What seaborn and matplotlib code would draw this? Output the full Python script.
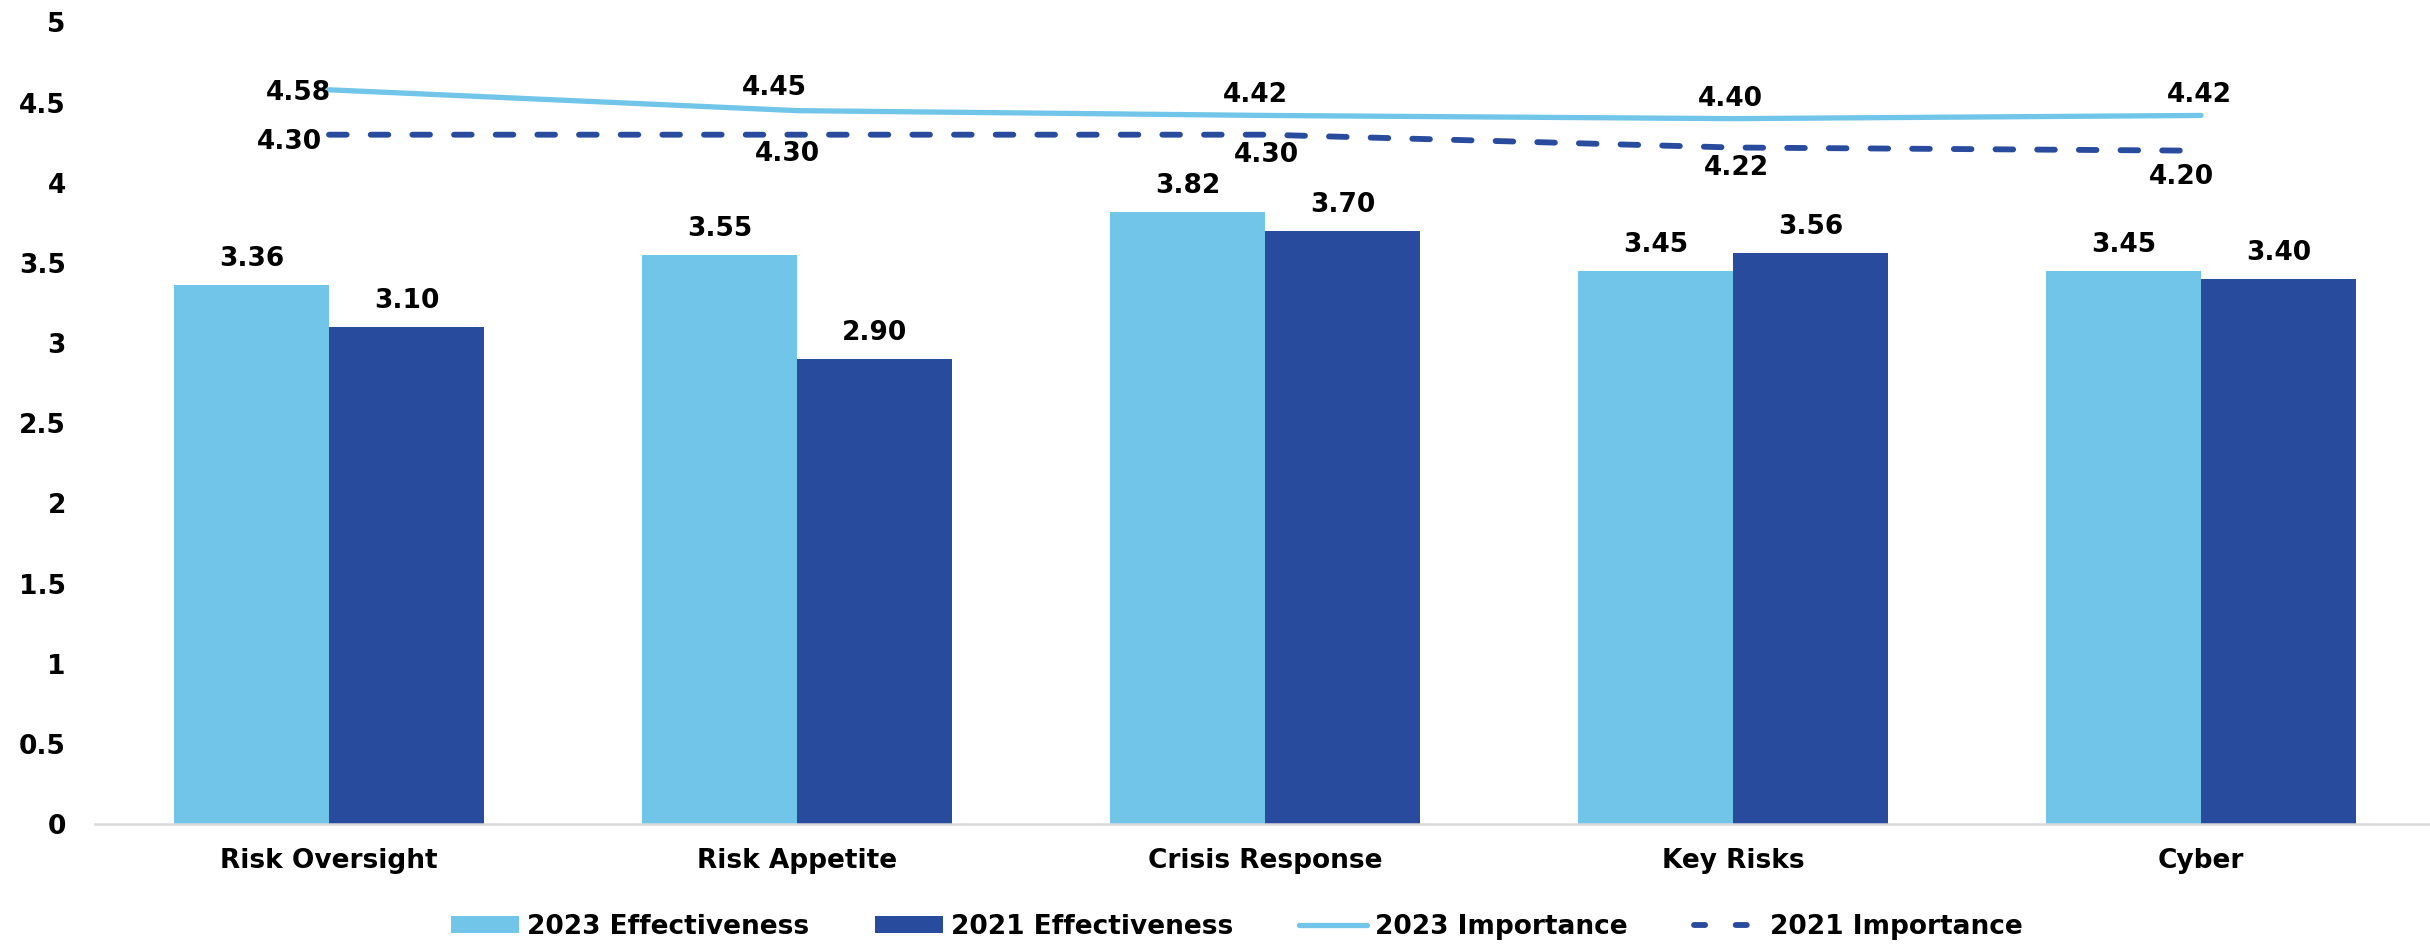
import matplotlib
matplotlib.use("Agg")
import matplotlib.pyplot as plt
from matplotlib.patches import Patch
from matplotlib.lines import Line2D
import numpy as np
import pandas as pd
import seaborn as sns

# ---- data ----
categories = ["Risk Oversight", "Risk Appetite", "Crisis Response", "Key Risks", "Cyber"]
effectiveness_2023 = [3.36, 3.55, 3.82, 3.45, 3.45]
effectiveness_2021 = [3.10, 2.90, 3.70, 3.56, 3.40]
importance_2023 = [4.58, 4.45, 4.42, 4.40, 4.42]
importance_2021 = [4.30, 4.30, 4.30, 4.22, 4.20]
bar_series = ["2023 Effectiveness", "2021 Effectiveness"]
line_series = ["2023 Importance", "2021 Importance"]
y_ticks = [0, 0.5, 1, 1.5, 2, 2.5, 3, 3.5, 4, 4.5, 5]
y_tick_labels = ["0", "0.5", "1", "1.5", "2", "2.5", "3", "3.5", "4", "4.5", "5"]

# label placement for the line values (pixel offsets from each point)
offsets_2023 = [(2, -3), (-23, 23), (-10, 20), (-3, 20), (-2, 20)]
offsets_2021 = [(-7, -7), (-10, -19), (1, -20), (3, -20), (-20, -26)]

LIGHT = "#71C5E8"
DARK = "#284B9E"
FS = 19

sns.set_theme(style="white")
plt.rcParams["font.family"] = ["DejaVu Sans"]
plt.rcParams["font.weight"] = "bold"
plt.rcParams["lines.scale_dashes"] = False
for key in ["text.color", "axes.labelcolor", "xtick.color", "ytick.color"]:
    plt.rcParams[key] = "black"

bars_df = pd.DataFrame({
    "category": categories * 2,
    "value": effectiveness_2023 + effectiveness_2021,
    "series": [bar_series[0]] * len(categories) + [bar_series[1]] * len(categories),
})
lines_df = pd.DataFrame({
    "category": categories * 2,
    "value": importance_2023 + importance_2021,
    "series": [line_series[0]] * len(categories) + [line_series[1]] * len(categories),
})

fig = plt.figure(figsize=(24.3, 9.44), dpi=100)
ax = fig.add_axes([0.0391, 0.1271, 0.963, 0.8491])

sns.barplot(
    data=bars_df, x="category", y="value", hue="series",
    order=categories, hue_order=bar_series,
    palette=[LIGHT, DARK], saturation=1, width=0.662, gap=0,
    linewidth=0, errorbar=None, legend=False, ax=ax,
)

LW = 3.8
DASH = (12.7, 17.3)  # on/off lengths in points
sns.lineplot(
    data=lines_df, x="category", y="value", hue="series", style="series",
    hue_order=line_series, style_order=line_series,
    palette=[LIGHT, DARK], dashes={line_series[0]: "", line_series[1]: DASH},
    linewidth=LW, sort=False, legend=False, ax=ax,
)
for ln in ax.lines:
    ln.set_linewidth(LW)
    ln.set_solid_capstyle("round")
    ln.set_dash_capstyle("round")
    if matplotlib.colors.to_hex(ln.get_color()).lower() == DARK.lower():
        ln.set_linewidth(4.2)
        ln.set_linestyle((0, DASH))

# value labels on bars
for cont in ax.containers:
    ax.bar_label(cont, fmt="%.2f", padding=9.4, fontsize=FS, fontweight="bold",
                 color="black")

# value labels on lines
for i, v in enumerate(importance_2023):
    ha = "right" if i == 0 else "center"
    ax.annotate(f"{v:.2f}", (i, v), xytext=offsets_2023[i], textcoords="offset pixels",
                ha=ha, va="center", fontsize=FS, fontweight="bold", color="black")
for i, v in enumerate(importance_2021):
    ha = "right" if i == 0 else "center"
    ax.annotate(f"{v:.2f}", (i, v), xytext=offsets_2021[i], textcoords="offset pixels",
                ha=ha, va="center", fontsize=FS, fontweight="bold", color="black")

# axes styling
ax.set_xlim(-0.5, len(categories) - 0.5)
ax.set_ylim(0, 5)
ax.set_yticks(y_ticks)
ax.set_yticklabels(y_tick_labels)
ax.set_xlabel("")
ax.set_ylabel("")
for side in ["left", "right", "top"]:
    ax.spines[side].set_visible(False)
ax.spines["bottom"].set_color("#D9D9D9")
ax.spines["bottom"].set_linewidth(1.8)
ax.tick_params(axis="y", length=0, pad=21, labelsize=FS, labelcolor="black")
ax.tick_params(axis="x", length=0, pad=17, labelsize=FS, labelcolor="black")
for lab in ax.get_xticklabels() + ax.get_yticklabels():
    lab.set_fontweight("bold")
ax.grid(False)

handles = [
    Patch(facecolor=LIGHT, edgecolor="none", label=bar_series[0]),
    Patch(facecolor=DARK, edgecolor="none", label=bar_series[1]),
    Line2D([], [], color=LIGHT, lw=LW, solid_capstyle="round", label=line_series[0]),
    Line2D([], [], color=DARK, lw=4.2, dashes=(8, 22), dash_capstyle="round",
           label=line_series[1]),
]
fig.legend(handles=handles, loc="center", bbox_to_anchor=(0.509, 0.018), ncol=4,
           frameon=False, prop={"size": FS, "weight": "bold"},
           handlelength=2.58, handleheight=0.6, handletextpad=0.3, columnspacing=2.5)

fig.savefig("out.png", dpi=100, facecolor="white")
